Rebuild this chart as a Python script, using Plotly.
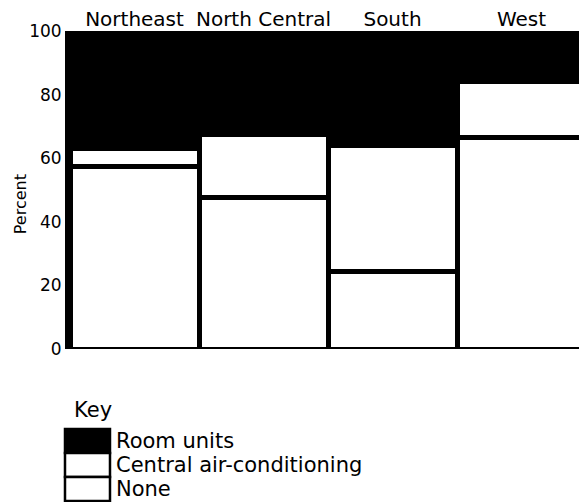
import plotly.graph_objects as go

# Regions along the top, percent of households by type of air-conditioning
regions = ['Northeast', 'North Central', 'South', 'West']
none_pct = [57.5, 47.5, 24.5, 66.5]
central_pct = [5.5, 20.0, 39.5, 17.5]
room_pct = [37.0, 32.5, 36.0, 16.0]

series_names = ['Room units', 'Central air-conditioning', 'None']
series_colors = ['black', 'white', 'white']

font_family = 'DejaVu Sans, Arial, sans-serif'

fig = go.Figure()

# Stack from the bottom: None, Central, Room units
for name, vals, color in [('None', none_pct, 'white'),
                          ('Central air-conditioning', central_pct, 'white'),
                          ('Room units', room_pct, 'black')]:
    fig.add_trace(go.Bar(
        x=regions,
        y=vals,
        name=name,
        width=1,
        marker=dict(color=color, line=dict(color='black', width=5)),
        showlegend=False,
    ))

# Key drawn under the chart
box_top = -0.2516
box_h = 0.0755
for i, (name, color) in enumerate(zip(series_names, series_colors)):
    y0 = box_top - (i + 1) * box_h
    y1 = box_top - i * box_h
    fig.add_shape(type='rect', xref='paper', yref='paper',
                  x0=-0.0097, x1=0.0775, y0=y0, y1=y1,
                  fillcolor=color, line=dict(color='black', width=2.5))
    fig.add_annotation(text=name, xref='paper', yref='paper',
                       x=0.085, y=(y0 + y1) / 2, xanchor='left', yanchor='middle',
                       showarrow=False, font=dict(size=21, color='black', family=font_family))

fig.add_annotation(text='Key', xref='paper', yref='paper',
                   x=0.004, y=-0.192, xanchor='left', yanchor='middle',
                   showarrow=False, font=dict(size=21, color='black', family=font_family))

# y title sits a little below the middle in the original
fig.add_annotation(text='Percent', xref='paper', yref='paper',
                   x=-0.097, y=0.455, xanchor='center', yanchor='middle',
                   textangle=-90, showarrow=False,
                   font=dict(size=16, color='black', family=font_family))

# page body adds ~8px on top/left, so the figure is a bit smaller than the window
fig.update_layout(
    barmode='stack',
    width=579,
    height=494,
    margin=dict(l=62, r=1, t=23, b=153),
    plot_bgcolor='white',
    paper_bgcolor='white',
    font=dict(family=font_family, size=17, color='black'),
    xaxis=dict(
        side='top',
        range=[-0.5, 3.5],
        automargin=False,
        showgrid=False,
        showline=False,
        ticks='',
        ticklabelstandoff=0,
        tickfont=dict(size=20),
    ),
    yaxis=dict(
        range=[0, 100],
        tickvals=[0, 20, 40, 60, 80, 100],
        automargin=False,
        showgrid=False,
        zeroline=False,
        showline=True,
        linecolor='black',
        linewidth=5,
        ticks='',
        tickfont=dict(size=17),
    ),
)

fig.write_html('out.html')
